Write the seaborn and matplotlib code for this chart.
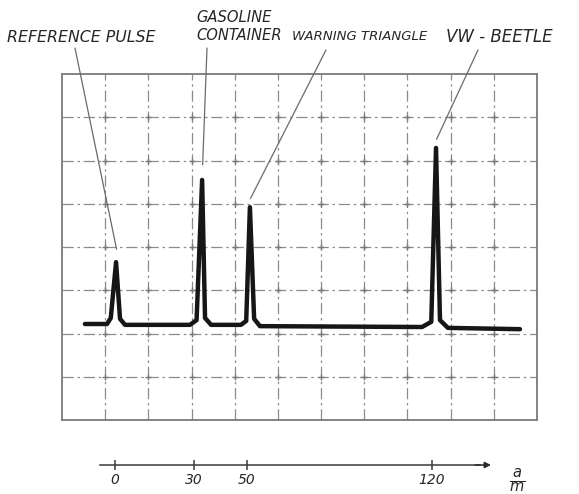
import numpy as np
import pandas as pd
import matplotlib
matplotlib.use("Agg")
import matplotlib.pyplot as plt
import seaborn as sns

# ---------------- data ----------------
trace_distance_m = [-11.4, -3.0, -1.6, 0.4, 1.9, 3.8,
                    28.4, 30.9, 33.0, 34.1, 36.4,
                    47.7, 49.7, 51.1, 52.7, 54.9,
                    116.3, 119.8, 121.6, 123.1, 126.1, 153.4]
trace_amplitude_div = [2.22, 2.22, 2.36, 3.65, 2.34, 2.20,
                       2.20, 2.31, 5.55, 2.36, 2.20,
                       2.20, 2.29, 4.92, 2.34, 2.17,
                       2.15, 2.27, 6.29, 2.31, 2.13, 2.10]
target_labels = ["REFERENCE PULSE", "GASOLINE\nCONTAINER", "WARNING TRIANGLE", "VW - BEETLE"]
target_peak_m = [0.4, 33.0, 51.1, 121.6]
target_peak_div = [3.65, 5.55, 4.92, 6.29]
scale_ticks_m = [0, 30, 50, 120]
scale_tick_labels = ["0", "30", "50", "120"]
unit_label = r"$\frac{a}{m}$"

# ---------------- styling / layout ----------------
sns.set_theme(style="white")
plt.rcParams["font.family"] = ["DejaVu Sans"]

W, H = 579, 494
PX_PER_M, X0_PX = 2.64, 115.0
def px2m(px):
    return (px - X0_PX) / PX_PER_M

xmin, xmax = px2m(62), px2m(537)
ink = "#161616"
txt = "#262626"
gridc = "#8c8c8c"

fig = plt.figure(figsize=(W / 100, H / 100), dpi=100)
fig.patch.set_facecolor("white")
ax = fig.add_axes([62 / W, 74 / H, 475 / W, 346 / H])
ax.set_xlim(xmin, xmax)
ax.set_ylim(0, 8)

vlines = np.linspace(xmin, xmax, 12)[1:-1]
hlines = np.arange(1, 8)
ax.set_xticks(vlines)
ax.set_yticks(hlines)
ax.tick_params(length=0, labelbottom=False, labelleft=False)
ax.grid(True, color=gridc, lw=0.9, linestyle=(0, (9, 3, 2, 3)))
for s in ax.spines.values():
    s.set_color("#7a7a7a")
    s.set_linewidth(1.3)
gx, gy = np.meshgrid(vlines, hlines)
ax.plot(gx.ravel(), gy.ravel(), ls="none", marker="+", ms=5, mew=1.0, color="#7a7a7a")

df = pd.DataFrame({"d": trace_distance_m, "a": trace_amplitude_div})
sns.lineplot(data=df, x="d", y="a", ax=ax, sort=False, estimator=None,
             color=ink, lw=3.2, solid_joinstyle="round", solid_capstyle="round")
ax.set_xlabel("")
ax.set_ylabel("")

# labels with leader lines
label_pos = [(7, 37, "left"), (196, 27, "left"), (292, 37, "left"), (446, 37, "left")]
label_size = [11.3, 10.6, 9.5, 12.0]
leader_start = [(75, 48), (207, 48), (326, 50), (478, 50)]
leader_gap = [0.3, 0.35, 0.2, 0.2]
for lab, (lx, ly, ha), fs, (sx, sy), pm, pd_, g in zip(
        target_labels, label_pos, label_size, leader_start,
        target_peak_m, target_peak_div, leader_gap):
    fig.text(lx / W, 1 - ly / H, lab, ha=ha, va="center", fontsize=fs,
             style="italic", color=txt, linespacing=1.25)
    ax.annotate("", xy=(pm + 0.2, pd_ + g), xycoords="data",
                xytext=(sx, H - sy), textcoords="figure pixels",
                arrowprops=dict(arrowstyle="-", color="#6a6a6a", lw=0.9,
                                shrinkA=0, shrinkB=0),
                annotation_clip=False)

# distance scale below
ax2 = fig.add_axes([62 / W, (H - 465) / H, 475 / W, 0.0005])
ax2.set_xlim(xmin, xmax)
ax2.set_ylim(0, 1)
ax2.patch.set_visible(False)
for k in ["top", "left", "right"]:
    ax2.spines[k].set_visible(False)
ax2.spines["bottom"].set_color("#3a3a3a")
ax2.spines["bottom"].set_linewidth(1.1)
ax2.spines["bottom"].set_bounds(px2m(100), px2m(480))
ax2.set_yticks([])
ax2.set_xticks(scale_ticks_m)
ax2.set_xticklabels(scale_tick_labels, style="italic", fontsize=10, color=txt)
ax2.tick_params(axis="x", bottom=True, direction="inout", length=7, width=1.1,
                color="#3a3a3a", pad=2)
ax2.annotate("", xy=(px2m(491), 0), xytext=(px2m(475), 0),
             arrowprops=dict(arrowstyle="-|>", color="#2a2a2a", lw=1.1,
                             mutation_scale=9, shrinkA=0, shrinkB=0),
             annotation_clip=False)
fig.text(517 / W, 1 - 481 / H, unit_label, ha="center", va="center",
         fontsize=15, color=txt)

fig.savefig("out.png", dpi=100)
